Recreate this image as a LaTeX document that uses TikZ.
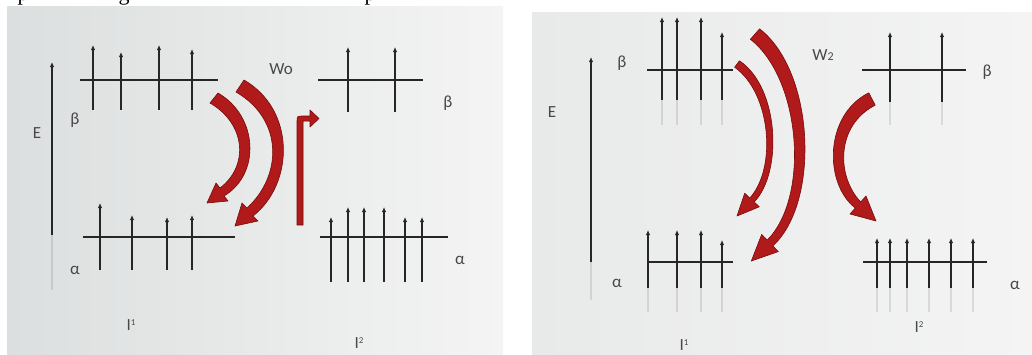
\documentclass[tikz,border=0pt]{standalone}
\usepackage{fontspec}
\setmainfont{Carlito}
\newfontfamily\serifpart{Liberation Serif}
\usetikzlibrary{arrows.meta}
\definecolor{arcred}{RGB}{176,26,26}
\definecolor{arcedge}{RGB}{120,10,10}
\definecolor{ink}{RGB}{38,38,38}
\definecolor{lab}{RGB}{72,72,72}
\definecolor{bgL}{RGB}{220,223,223}
\definecolor{bgR}{RGB}{244,244,244}
\definecolor{bgL2}{RGB}{232,233,233}
\newcommand{\spinup}[3]{\draw[spin] (#1,#3) -- (#1,#2);}
\newcommand{\spinrf}[4]{\draw[spin] (#1,#3) -- (#1,#2); \draw[refl] (#1,#3) -- (#1,#4);}
\begin{document}
\begin{tikzpicture}[x=1pt,y=-1pt,
  level/.style={draw=ink, line width=1.8pt},
  spin/.style={draw=ink, line width=1.6pt, -{Latex[length=5pt,width=4.5pt]}},
  refl/.style={draw=ink, line width=1.5pt, opacity=0.12},
  lbl/.style={text=lab, font=\fontsize{17}{17}\selectfont, inner sep=0pt},
  desc/.style={font=\serifpart\fontsize{22}{22}\selectfont, inner sep=0pt, anchor=base},
  redarc/.style={fill=arcred, draw=arcedge, line width=0.6pt, line join=round}]
\useasboundingbox (0,0) rectangle (1032,354);
\clip (0,0) rectangle (1032,354);
\fill[white] (0,0) rectangle (1032,354);
% panels
\shade[left color=bgL, right color=bgR] (7,6) rectangle (503,354);
\shade[left color=bgL2, right color=bgR] (532,12) rectangle (1032,354);
% descenders of the text line above
\begin{scope}
\clip (0,0) rectangle (1032,6);
\node[desc] (d1) at (23,0) {p};
\node[desc] (d2) at (124,0) {g};
\node[desc] (d3) at (370,0) {p};
\end{scope}

% ================= LEFT PANEL =================
% energy axis
\draw[spin] (52,235) -- (52,62);
\draw[refl] (52,235) -- (52,290);
\node[lbl] (E1) at (37,133) {E};
% beta level, left
\draw[level] (80,80) -- (218,80);
\spinup{93}{45}{110}
\spinup{121}{52}{110}
\spinup{159}{45}{110}
\spinup{192}{49}{110}
\node[lbl] (bL1) at (75,120) {β};
% alpha level, left
\draw[level] (83,237) -- (235,237);
\spinup{100}{203}{270}
\spinup{132}{215}{270}
\spinup{167}{217}{270}
\spinup{192}{215}{270}
\node[lbl] (aL1) at (75,270) {α};
\node[lbl] (I1a) at (131,325) {I\raisebox{0.55ex}{\fontsize{9}{9}\selectfont 1}};
% beta level, right
\draw[level] (318,80) -- (423,80);
\spinup{348}{47}{112}
\spinup{395}{47}{112}
\node[lbl] (bR1) at (448,103) {β};
% alpha level, right
\draw[level] (320,237) -- (448,237);
\spinup{331}{217}{282}
\spinup{348}{207}{282}
\spinup{364}{207}{282}
\spinup{384}{207}{282}
\spinup{405}{217}{282}
\spinup{422}{217}{282}
\node[lbl] (aR1) at (460,260) {α};
\node[lbl] (I2a) at (359,343) {I\raisebox{0.55ex}{\fontsize{9}{9}\selectfont 2}};
\node[lbl] (W0) at (281,69) {Wo};
% red arrows
\path[redarc] (218,93) .. controls (258,116) and (261,174) .. (224,196)
  -- (228,201) -- (207,203) -- (216,183) -- (220,188)
  .. controls (249,166) and (246,124) .. (210,103) -- cycle;
\path[redarc] (244,80) .. controls (296,110) and (294,184) .. (253,216)
  -- (258,221) -- (235,226) -- (242,203) -- (247,208)
  .. controls (282,176) and (284,120) .. (236,92) -- cycle;
\path[redarc] (297,225) -- (297,122) .. controls (297,116) .. (303,116)
  -- (310,116) -- (310,110) -- (319,118.5) -- (310,127) -- (310,121)
  -- (303,121) -- (303,225) -- cycle;

% ================= RIGHT PANEL =================
\draw[spin] (591,262) -- (591,57);
\draw[refl] (591,262) -- (591,300);
\node[lbl] (E2) at (552,112) {E};
% beta level, left
\draw[level] (647,70) -- (733,70);
\spinrf{662}{17}{100}{125}
\spinrf{677}{17}{100}{125}
\spinrf{701}{17}{100}{125}
\spinrf{722}{32}{100}{125}
\node[lbl] (bL2) at (622,63) {β};
% alpha level, left
\draw[level] (647,262) -- (733,262);
\spinrf{648}{230}{288}{312}
\spinrf{677}{230}{288}{312}
\spinrf{701}{230}{288}{312}
\spinrf{722}{240}{288}{312}
\node[lbl] (aL2) at (617,283) {α};
\node[lbl] (I1b) at (684,345) {I\raisebox{0.55ex}{\fontsize{9}{9}\selectfont 1}};
% beta level, right
\draw[level] (862,70) -- (966,70);
\spinrf{890}{32}{102}{125}
\spinrf{942}{32}{102}{125}
\node[lbl] (bR2) at (987,72) {β};
% alpha level, right
\draw[level] (863,262) -- (987,262);
\spinrf{877}{238}{288}{312}
\spinrf{890}{238}{288}{312}
\spinrf{907}{238}{288}{312}
\spinrf{929}{238}{288}{312}
\spinrf{951}{238}{288}{312}
\spinrf{973}{238}{288}{312}
\node[lbl] (aR2) at (1015,285) {α};
\node[lbl] (I2b) at (919,327) {I\raisebox{0.55ex}{\fontsize{9}{9}\selectfont 2}};
\node[lbl] (W2) at (823,55) {W{\fontsize{12}{12}\selectfont 2}};
% red arrows
\path[redarc] (739.4,60.8) .. controls (779,87) and (783,172) .. (754.2,202)
  -- (759.3,206.8) -- (737,216) -- (744.7,193.2) -- (749.8,198)
  .. controls (777,168) and (771,93) .. (734.6,67.2) -- cycle;
\path[redarc] (759.6,28.8) .. controls (815,72) and (820,203) .. (772.8,245.9)
  -- (778.3,251.6) -- (751.3,261) -- (761.7,234.4) -- (767.2,240.1)
  .. controls (810,197) and (801,79) .. (750.4,39.3) -- cycle;
\path[redarc] (868.8,92.8) .. controls (824,115) and (824,184) .. (855.3,208)
  -- (850,214) -- (876,221) -- (866,196) -- (860.7,202)
  .. controls (836,176) and (836,125) .. (875.2,105.2) -- cycle;
\end{tikzpicture}
\end{document}
